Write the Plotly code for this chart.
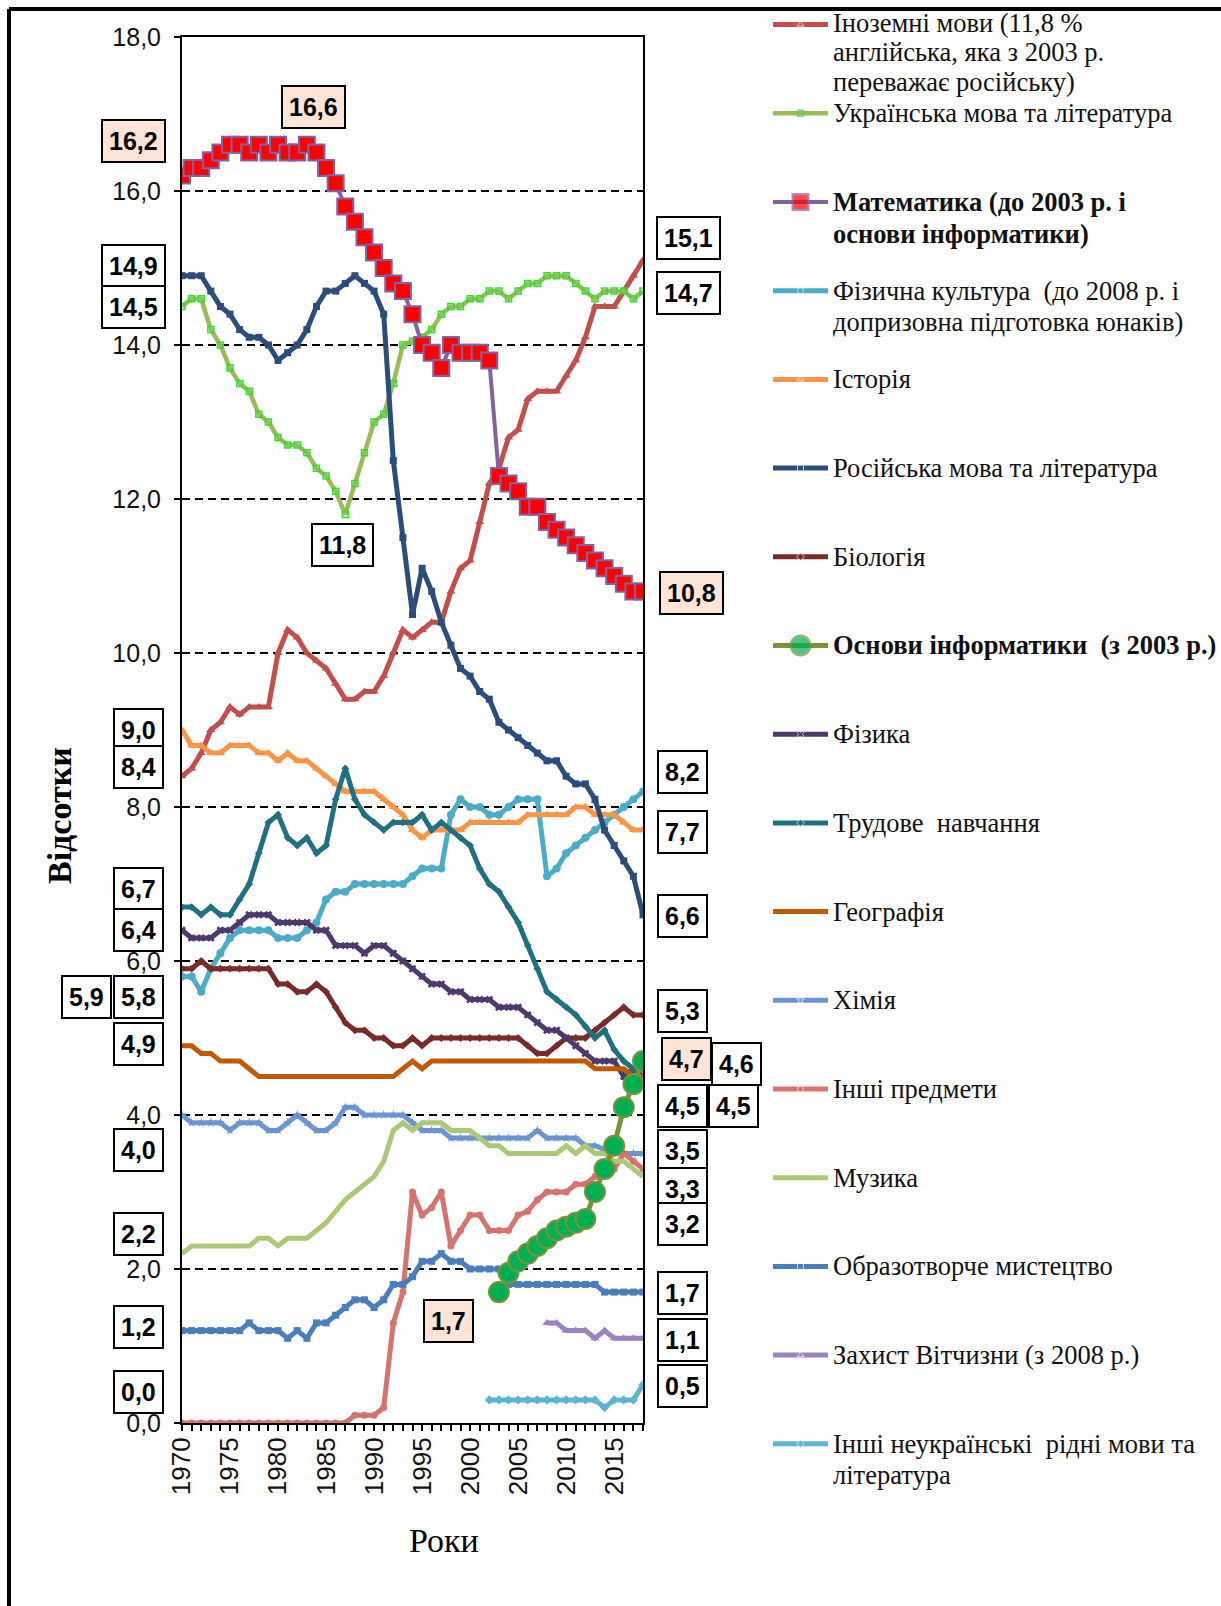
import plotly.graph_objects as go

# ---------------- data ----------------
years = list(range(1970, 2019))

foreign = [8.4, 8.5, 8.7, 9.0, 9.1, 9.3, 9.2, 9.3, 9.3, 9.3,
           10.0, 10.3, 10.2, 10.0, 9.9, 9.8, 9.6, 9.4, 9.4, 9.5,
           9.5, 9.7, 10.0, 10.3, 10.2, 10.3, 10.4, 10.4, 10.8, 11.1,
           11.2, 11.7, 12.2, 12.4, 12.8, 12.9, 13.3, 13.4, 13.4, 13.4,
           13.6, 13.8, 14.1, 14.5, 14.5, 14.5, 14.7, 14.9, 15.1]
ukrainian = [14.5, 14.6, 14.6, 14.2, 14.0, 13.7, 13.5, 13.4, 13.1, 13.0,
             12.8, 12.7, 12.7, 12.6, 12.4, 12.3, 12.1, 11.8, 12.2, 12.6,
             13.0, 13.1, 13.5, 14.0, 14.05, 14.1, 14.2, 14.4, 14.5, 14.5,
             14.6, 14.6, 14.7, 14.7, 14.6, 14.7, 14.8, 14.8, 14.9, 14.9,
             14.9, 14.8, 14.7, 14.6, 14.7, 14.7, 14.7, 14.6, 14.7]
math = [16.2, 16.3, 16.3, 16.4, 16.5, 16.6, 16.6, 16.5, 16.6, 16.5,
        16.6, 16.5, 16.5, 16.6, 16.5, 16.3, 16.1, 15.8, 15.6, 15.4,
        15.2, 15.0, 14.8, 14.7, 14.4, 14.0, 13.9, 13.7, 14.0, 13.9,
        13.9, 13.9, 13.8, 12.3, 12.2, 12.1, 11.9, 11.9, 11.7, 11.6,
        11.5, 11.4, 11.3, 11.2, 11.1, 11.0, 10.9, 10.8, 10.8]
phys_culture = [5.8, 5.8, 5.6, 5.9, 6.1, 6.3, 6.4, 6.4, 6.4, 6.4,
                6.3, 6.3, 6.3, 6.4, 6.5, 6.8, 6.9, 6.9, 7.0, 7.0,
                7.0, 7.0, 7.0, 7.0, 7.1, 7.2, 7.2, 7.2, 7.9, 8.1,
                8.0, 8.0, 7.9, 7.9, 8.0, 8.1, 8.1, 8.1, 7.1, 7.2,
                7.4, 7.5, 7.6, 7.7, 7.8, 7.9, 8.0, 8.1, 8.2]
history = [9.0, 8.8, 8.8, 8.7, 8.7, 8.8, 8.8, 8.8, 8.7, 8.7,
           8.6, 8.7, 8.6, 8.6, 8.5, 8.4, 8.3, 8.2, 8.2, 8.2,
           8.2, 8.1, 8.0, 7.9, 7.7, 7.6, 7.7, 7.7, 7.7, 7.7,
           7.8, 7.8, 7.8, 7.8, 7.8, 7.8, 7.9, 7.9, 7.9, 7.9,
           7.9, 8.0, 8.0, 7.9, 7.9, 7.9, 7.8, 7.7, 7.7]
russian = [14.9, 14.9, 14.9, 14.7, 14.5, 14.4, 14.2, 14.1, 14.1, 14.0,
           13.8, 13.9, 14.0, 14.2, 14.5, 14.7, 14.7, 14.8, 14.9, 14.8,
           14.7, 14.4, 12.5, 11.5, 10.5, 11.1, 10.8, 10.4, 10.1, 9.8,
           9.7, 9.5, 9.4, 9.1, 9.0, 8.9, 8.8, 8.7, 8.6, 8.6,
           8.4, 8.3, 8.3, 8.1, 7.7, 7.5, 7.3, 7.1, 6.6]
biology = [5.9, 5.9, 6.0, 5.9, 5.9, 5.9, 5.9, 5.9, 5.9, 5.9,
           5.7, 5.7, 5.6, 5.6, 5.7, 5.6, 5.4, 5.2, 5.1, 5.1,
           5.0, 5.0, 4.9, 4.9, 5.0, 4.9, 5.0, 5.0, 5.0, 5.0,
           5.0, 5.0, 5.0, 5.0, 5.0, 5.0, 4.9, 4.8, 4.8, 4.9,
           5.0, 5.0, 5.0, 5.1, 5.2, 5.3, 5.4, 5.3, 5.3]
informatics = [None] * 33 + [1.7, 1.95, 2.1, 2.2, 2.3, 2.4, 2.5, 2.55,
                             2.6, 2.65, 3.0, 3.3, 3.6, 4.1, 4.4, 4.7]
physics = [6.4, 6.3, 6.3, 6.3, 6.4, 6.4, 6.5, 6.6, 6.6, 6.6,
           6.5, 6.5, 6.5, 6.5, 6.4, 6.4, 6.2, 6.2, 6.2, 6.1,
           6.2, 6.2, 6.1, 6.0, 5.9, 5.8, 5.7, 5.7, 5.6, 5.6,
           5.5, 5.5, 5.5, 5.4, 5.4, 5.4, 5.3, 5.2, 5.1, 5.1,
           5.0, 4.9, 4.8, 4.7, 4.7, 4.7, 4.5, 4.6, 4.5]
labour = [6.7, 6.7, 6.6, 6.7, 6.6, 6.6, 6.8, 7.0, 7.4, 7.8,
          7.9, 7.6, 7.5, 7.6, 7.4, 7.5, 8.1, 8.5, 8.1, 7.9,
          7.8, 7.7, 7.8, 7.8, 7.8, 7.9, 7.7, 7.8, 7.7, 7.6,
          7.5, 7.2, 7.0, 6.9, 6.7, 6.5, 6.2, 5.9, 5.6, 5.5,
          5.4, 5.3, 5.15, 5.0, 5.1, 4.85, 4.7, 4.6, 4.6]
geography = [4.9, 4.9, 4.8, 4.8, 4.7, 4.7, 4.7, 4.6, 4.5, 4.5,
             4.5, 4.5, 4.5, 4.5, 4.5, 4.5, 4.5, 4.5, 4.5, 4.5,
             4.5, 4.5, 4.5, 4.6, 4.7, 4.6, 4.7, 4.7, 4.7, 4.7,
             4.7, 4.7, 4.7, 4.7, 4.7, 4.7, 4.7, 4.7, 4.7, 4.7,
             4.7, 4.7, 4.7, 4.6, 4.6, 4.6, 4.6, 4.5, 4.5]
chemistry = [4.0, 3.9, 3.9, 3.9, 3.9, 3.8, 3.9, 3.9, 3.9, 3.8,
             3.8, 3.9, 4.0, 3.9, 3.8, 3.8, 3.9, 4.1, 4.1, 4.0,
             4.0, 4.0, 4.0, 4.0, 3.9, 3.8, 3.8, 3.8, 3.7, 3.7,
             3.7, 3.7, 3.7, 3.7, 3.7, 3.7, 3.7, 3.8, 3.7, 3.7,
             3.7, 3.7, 3.6, 3.6, 3.55, 3.6, 3.5, 3.5, 3.5]
other = [0.0] * 18 + [0.1, 0.1, 0.1, 0.2, 1.3, 1.7, 3.0, 2.7, 2.8, 3.0, 2.3, 2.5,
                      2.7, 2.7, 2.5, 2.5, 2.5, 2.7, 2.75, 2.9, 3.0, 3.0,
                      3.0, 3.1, 3.1, 3.2, 3.3, 3.3, 3.5, 3.4, 3.3]
music = [2.2, 2.3, 2.3, 2.3, 2.3, 2.3, 2.3, 2.3, 2.4, 2.4,
         2.3, 2.4, 2.4, 2.4, 2.5, 2.6, 2.75, 2.9, 3.0, 3.1,
         3.2, 3.4, 3.8, 3.9, 3.8, 3.9, 3.9, 3.9, 3.8, 3.8,
         3.8, 3.7, 3.6, 3.6, 3.5, 3.5, 3.5, 3.5, 3.5, 3.5,
         3.6, 3.5, 3.6, 3.5, 3.5, 3.4, 3.4, 3.3, 3.2]
art = [1.2, 1.2, 1.2, 1.2, 1.2, 1.2, 1.2, 1.3, 1.2, 1.2,
       1.2, 1.1, 1.2, 1.1, 1.3, 1.3, 1.4, 1.5, 1.6, 1.6,
       1.5, 1.6, 1.8, 1.8, 1.9, 2.1, 2.1, 2.2, 2.1, 2.1,
       2.0, 2.0, 2.0, 2.0, 1.8, 1.8, 1.8, 1.8, 1.8, 1.8,
       1.8, 1.8, 1.8, 1.8, 1.7, 1.7, 1.7, 1.7, 1.7]
defence = [None] * 38 + [1.3, 1.3, 1.2, 1.2, 1.2, 1.1, 1.2, 1.1, 1.1, 1.1, 1.1]
other_lang = [None] * 32 + [0.3] * 12 + [0.2, 0.3, 0.3, 0.3, 0.5]

legend_lines = [
    ["Іноземні мови (11,8 %", "англійська, яка з 2003 р.", "переважає російську)"],
    ["Українська мова та література"],
    ["<b>Математика (до 2003 р. і</b>", "<b>основи інформатики)</b>"],
    ["Фізична культура  (до 2008 р. і", "допризовна підготовка юнаків)"],
    ["Історія"],
    ["Російська мова та література"],
    ["Біологія"],
    ["<b>Основи інформатики  (з 2003 р.)</b>"],
    ["Фізика"],
    ["Трудове  навчання"],
    ["Географія"],
    ["Хімія"],
    ["Інші предмети"],
    ["Музика"],
    ["Образотворче мистецтво"],
    ["Захист Вітчизни (з 2008 р.)"],
    ["Інші неукраїнські  рідні мови та", "література"],
]

# ---------------- styles ----------------
LW = 5
series = [
    (foreign, dict(color="#C0504D", width=LW), dict(symbol="triangle-up", size=8, color="#C0504D")),
    (ukrainian, dict(color="#9BBB59", width=4.5), dict(symbol="square-open", size=6, color="#33DD33", line=dict(width=1.5, color="#33DD33"))),
    (math, dict(color="#8064A2", width=4), dict(symbol="square", size=16, color="#FF0000", line=dict(width=2, color="#8064A2"))),
    (phys_culture, dict(color="#4BACC6", width=LW), dict(symbol="circle", size=8, color="#4BACC6")),
    (history, dict(color="#F79646", width=LW), dict(symbol="triangle-up", size=8, color="#F79646")),
    (russian, dict(color="#2C4D7A", width=LW), dict(symbol="square", size=7, color="#2C4D7A")),
    (biology, dict(color="#772C2A", width=LW), dict(symbol="diamond", size=6, color="#772C2A")),
    (informatics, dict(color="#77933C", width=LW), dict(symbol="circle", size=20, color="#00B050", line=dict(width=2, color="#77933C"))),
    (physics, dict(color="#4D3A6B", width=LW), dict(symbol="x", size=7, color="#4D3A6B")),
    (labour, dict(color="#21707F", width=LW), dict(symbol="diamond", size=6, color="#21707F")),
    (geography, dict(color="#C05A08", width=LW), None),
    (chemistry, dict(color="#6C95CF", width=LW), dict(symbol="star", size=7, color="#6C95CF")),
    (other, dict(color="#D47470", width=LW), dict(symbol="circle", size=7, color="#D47470")),
    (music, dict(color="#ABC877", width=LW), None),
    (art, dict(color="#4A7EBB", width=LW), dict(symbol="square", size=7, color="#4A7EBB")),
    (defence, dict(color="#9A84BF", width=LW), dict(symbol="triangle-up", size=8, color="#9A84BF")),
    (other_lang, dict(color="#5BB5CE", width=LW), dict(symbol="diamond", size=7, color="#5BB5CE")),
]

W, H = 1221, 1606
PX0, PX1, PY_TOP, PY_BOT = 182, 643, 37, 1423


def fx(p):
    return p / W


def fy(p):
    return 1 - p / H


def fmt(v):
    return f"{v:.1f}".replace(".", ",")


fig = go.Figure()

draw_order = [i for i in range(len(series)) if i not in (2, 7)] + [7, 2]
for i in draw_order:
    vals, line, marker = series[i]
    fig.add_trace(go.Scatter(
        x=years, y=vals, mode="lines+markers" if marker else "lines",
        line=line, marker=marker if marker else None,
        name=" ".join(legend_lines[i]).replace("<b>", "").replace("</b>", ""),
        showlegend=False, connectgaps=False, xaxis="x", yaxis="y"))

# ---- manual legend (samples on a full-figure helper axis) ----
LEG_Y0, LEG_DY = 24.6, 88.7
LEG_X0, LEG_X1, LEG_TX = 773, 828, 832
LH = 31.5
annotations = []
for i, (vals, line, marker) in enumerate(series):
    yy = LEG_Y0 + LEG_DY * i
    lmark = None
    if marker:
        lmark = dict(marker)
        big = i in (2, 7)
        lmark["size"] = [0, marker["size"] if big else 6, 0]
    fig.add_trace(go.Scatter(
        x=[LEG_X0, (LEG_X0 + LEG_X1) / 2, LEG_X1], y=[yy, yy, yy],
        mode="lines+markers" if marker else "lines",
        line=line, marker=lmark, showlegend=False, hoverinfo="skip",
        xaxis="x2", yaxis="y2"))
    # the three-line first entry is packed a little tighter so it does not collide
    lh = 29.5 if len(legend_lines[i]) > 2 else LH
    y_first = yy - 2 if len(legend_lines[i]) > 2 else yy
    for k, txt in enumerate(legend_lines[i]):
        annotations.append(dict(
            x=fx(LEG_TX), y=fy(y_first + k * lh), xref="paper", yref="paper",
            text=txt, showarrow=False, xanchor="left", yanchor="middle",
            align="left", borderpad=0,
            font=dict(family="Liberation Serif", size=26.5, color="#111")))

# ---- value boxes ----
PEACH = "#FCE4D6"
boxes = [
    # (value, centre x px, centre y px, peach?)
    (math[0], 133, 141, True),
    (max(math), 313, 107, True),
    (russian[0], 133, 266, False),
    (ukrainian[0], 133, 307, False),
    (min(ukrainian), 342, 545, False),
    (history[0], 138, 730, False),
    (foreign[0], 138, 767, False),
    (labour[0], 138, 889, False),
    (physics[0], 138, 930, False),
    (biology[0], 86, 997, False),
    (phys_culture[0], 138, 997, False),
    (geography[0], 138, 1044, False),
    (chemistry[0], 138, 1150, False),
    (music[0], 138, 1234, False),
    (art[0], 138, 1327, False),
    (other[0], 138, 1392, False),
    (informatics[33], 448, 1321, True),
    (foreign[-1], 688, 238, False),
    (ukrainian[-1], 688, 293, False),
    (math[-1], 691, 593, True),
    (phys_culture[-1], 682, 772, False),
    (history[-1], 682, 832, False),
    (russian[-1], 682, 916, False),
    (biology[-1], 682, 1011, False),
    (informatics[-1], 686, 1059, True),
    (labour[-1], 736, 1064, False),
    (geography[-1], 682, 1106, False),
    (physics[-1], 733, 1106, False),
    (chemistry[-1], 682, 1151, False),
    (other[-1], 682, 1189, False),
    (music[-1], 682, 1224, False),
    (art[-1], 682, 1293, False),
    (defence[-1], 682, 1340, False),
    (other_lang[-1], 682, 1386, False),
]
for v, cx, cy, peach in boxes:
    annotations.append(dict(
        x=fx(cx), y=fy(cy), xref="paper", yref="paper", text="<b>" + fmt(v) + "</b>",
        showarrow=False, xanchor="center", yanchor="middle",
        font=dict(family="Liberation Sans", size=25, color="#000"),
        bgcolor=PEACH if peach else "#FFFFFF", bordercolor="#000", borderwidth=2, borderpad=6))

# axis titles
annotations.append(dict(x=fx(59), y=fy(816), xref="paper", yref="paper", text="<b>Відсотки</b>",
                        textangle=-90, showarrow=False, xanchor="center", yanchor="middle",
                        font=dict(family="Liberation Serif", size=34, color="#000")))
annotations.append(dict(x=fx(444), y=fy(1540), xref="paper", yref="paper", text="Роки",
                        showarrow=False, xanchor="center", yanchor="middle",
                        font=dict(family="Liberation Serif", size=34, color="#000")))

ticktext = [str(y) if y % 5 == 0 else "" for y in years]

fig.update_layout(
    width=W, height=H, margin=dict(l=0, r=0, t=0, b=0),
    paper_bgcolor="white", plot_bgcolor="rgba(0,0,0,0)",
    separators=", ",
    xaxis=dict(domain=[fx(PX0), fx(PX1)], range=[1970, 2018], tickmode="array",
               tickvals=years, ticktext=ticktext, tickangle=-90, ticks="outside",
               ticklen=6, tickwidth=1.5, tickcolor="black", showgrid=False,
               showline=True, linecolor="black", linewidth=2, mirror=True,
               zeroline=False, automargin=False, ticklabelstandoff=-4,
               tickfont=dict(family="Liberation Sans", size=26, color="#111")),
    yaxis=dict(domain=[fy(PY_BOT), fy(PY_TOP)], range=[0, 18], dtick=2, tick0=0,
               tickformat=".1f", ticks="outside", ticklen=6, tickwidth=1.5,
               tickcolor="black", showgrid=True, gridcolor="black", gridwidth=1.5,
               griddash="8px,5px", showline=True, linecolor="black", linewidth=2,
               mirror=True, zeroline=False, automargin=False, ticklabelstandoff=8,
               tickfont=dict(family="Liberation Sans", size=25, color="#111")),
    xaxis2=dict(domain=[0, 1], range=[0, W], visible=False, anchor="y2", fixedrange=True),
    yaxis2=dict(domain=[0, 1], range=[H, 0], visible=False, anchor="x2", fixedrange=True),
    annotations=annotations,
    shapes=[
        dict(type="line", xref="paper", yref="paper", x0=fx(9), x1=1, y0=fy(9), y1=fy(9),
             line=dict(color="black", width=4)),
        dict(type="line", xref="paper", yref="paper", x0=fx(9), x1=fx(9), y0=fy(9), y1=0,
             line=dict(color="black", width=4)),
    ],
    showlegend=False,
)

fig.write_html("out.html", config={"displayModeBar": False},
               post_script="document.body.style.margin='0px';")
